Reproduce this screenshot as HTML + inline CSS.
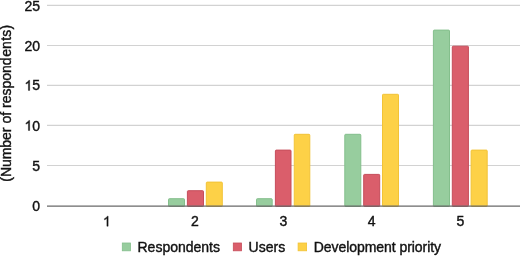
<!DOCTYPE html>
<html>
<head>
<meta charset="utf-8">
<title>Chart</title>
<style>
html,body{margin:0;padding:0;background:#fff;}
body{width:520px;height:256px;overflow:hidden;position:relative;font-family:"Liberation Sans",sans-serif;}
svg{position:absolute;left:0;top:0;display:block;will-change:transform;transform:translateZ(0);}
text{font-family:"Liberation Sans",sans-serif;font-size:14px;fill:#121212;stroke:#121212;stroke-width:0.4px;}
</style>
</head>
<body>
<svg width="520" height="256" viewBox="0 0 520 256">
  <!-- gridlines -->
  <g stroke="#d2d2d2" stroke-width="1.15">
    <line x1="47" y1="5.3" x2="520" y2="5.3"/>
    <line x1="47" y1="45.5" x2="520" y2="45.5"/>
    <line x1="47" y1="85.3" x2="520" y2="85.3"/>
    <line x1="47" y1="125.4" x2="520" y2="125.4"/>
    <line x1="47" y1="165.5" x2="520" y2="165.5"/>
  </g>
  <!-- bars -->
  <g stroke-width="1">
    <rect x="168.50" y="198.70" width="16.00" height="7.80" rx="0.8" fill="#97cd9e" stroke="#84bf8c"/>
    <rect x="187.40" y="190.70" width="16.10" height="15.80" rx="0.8" fill="#da5e6b" stroke="#c64d5b"/>
    <rect x="206.30" y="182.10" width="16.00" height="24.40" rx="0.8" fill="#fdd147" stroke="#f2c337"/>
    <rect x="256.50" y="198.70" width="15.70" height="7.80" rx="0.8" fill="#97cd9e" stroke="#84bf8c"/>
    <rect x="275.40" y="150.10" width="15.60" height="56.40" rx="0.8" fill="#da5e6b" stroke="#c64d5b"/>
    <rect x="294.25" y="134.30" width="15.55" height="72.20" rx="0.8" fill="#fdd147" stroke="#f2c337"/>
    <rect x="344.80" y="134.30" width="16.00" height="72.20" rx="0.8" fill="#97cd9e" stroke="#84bf8c"/>
    <rect x="363.70" y="174.40" width="16.00" height="32.10" rx="0.8" fill="#da5e6b" stroke="#c64d5b"/>
    <rect x="382.50" y="94.30" width="16.00" height="112.20" rx="0.8" fill="#fdd147" stroke="#f2c337"/>
    <rect x="433.40" y="30.10" width="16.10" height="176.40" rx="0.8" fill="#97cd9e" stroke="#84bf8c"/>
    <rect x="452.30" y="46.20" width="16.10" height="160.30" rx="0.8" fill="#da5e6b" stroke="#c64d5b"/>
    <rect x="471.10" y="150.10" width="16.10" height="56.40" rx="0.8" fill="#fdd147" stroke="#f2c337"/>
  </g>
  <!-- axis baseline -->
  <line x1="47" y1="206.1" x2="520" y2="206.1" stroke="#686868" stroke-width="1.25"/>
  <!-- y labels -->
  <g text-anchor="end">
    <text x="40" y="10.7">25</text>
    <text x="40" y="50.5">20</text>
    <path d="M763 0H583V1147Q518 1085 412.5 1023T223 930V1104Q373.5 1174.5 485.5 1275T644 1470H763Z" transform="translate(24.43,90.4) scale(0.0068359,-0.0068359)" fill="#121212" stroke="#121212" stroke-width="58"/><text x="40" y="90.4">5</text>
    <path d="M763 0H583V1147Q518 1085 412.5 1023T223 930V1104Q373.5 1174.5 485.5 1275T644 1470H763Z" transform="translate(24.43,130.5) scale(0.0068359,-0.0068359)" fill="#121212" stroke="#121212" stroke-width="58"/><text x="40" y="130.5">0</text>
    <text x="40" y="170.8">5</text>
    <text x="40" y="211">0</text>
  </g>
  <!-- x labels -->
  <path d="M763 0H583V1147Q518 1085 412.5 1023T223 930V1104Q373.5 1174.5 485.5 1275T644 1470H763Z" transform="translate(102.91,226.2) scale(0.0068359,-0.0068359)" fill="#121212" stroke="#121212" stroke-width="58"/>
  <g text-anchor="middle">
    <text x="195" y="226.2">2</text>
    <text x="283.3" y="226.2">3</text>
    <text x="371.6" y="226.2">4</text>
    <text x="460.3" y="226.2">5</text>
  </g>
  <!-- y title -->
  <text transform="translate(10.6,181.7) rotate(-90)" x="0" y="0" dx="0 0 -0.1 -0.1 -0.1 0 0 0 0 0 0 0 0 0 0 0 0 0 0.5 0 0.4 0.25 0.15">(Number of respondents)</text>
  <!-- legend -->
  <rect x="122.3" y="243" width="8.2" height="7.8" fill="#97cd9e" stroke="#84bf8c" stroke-width="0.8"/>
  <text x="137.5" y="251.8">Respondents</text>
  <rect x="233.3" y="243" width="8.2" height="7.8" fill="#da5e6b" stroke="#c64d5b" stroke-width="0.8"/>
  <text x="248.6" y="251.8">Users</text>
  <rect x="298.1" y="243" width="8.5" height="7.8" fill="#fdd147" stroke="#f2c337" stroke-width="0.8"/>
  <text x="313.8" y="251.8" letter-spacing="-0.06">Development priority</text>
</svg>
</body>
</html>
